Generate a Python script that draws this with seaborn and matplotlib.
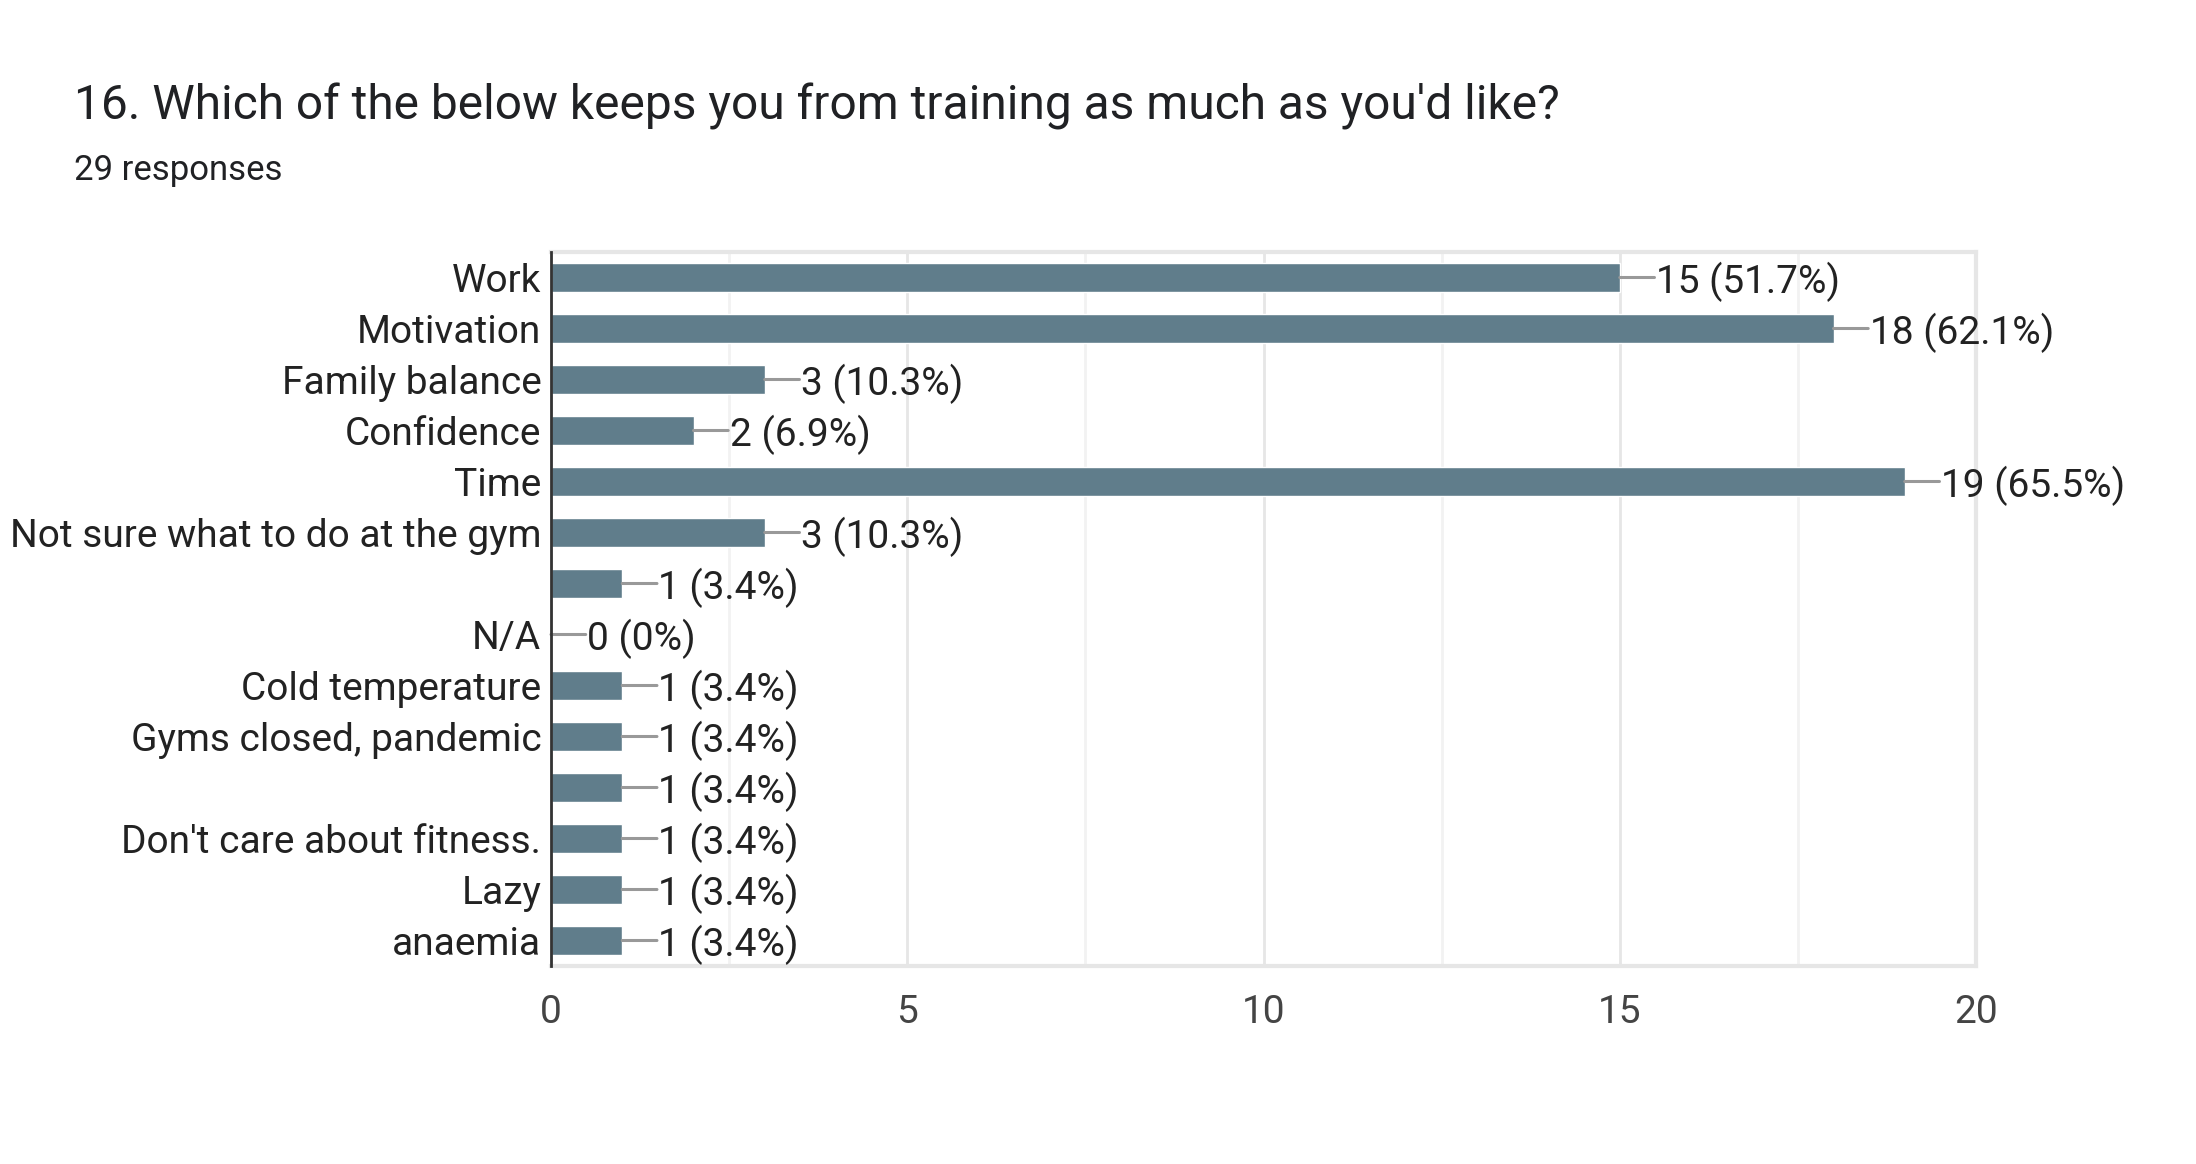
import pandas as pd
import seaborn as sns
import matplotlib.pyplot as plt
from matplotlib.ticker import MultipleLocator

labels = ["Work", "Motivation", "Family balance", "Confidence", "Time",
          "Not sure what to do at the gym", "", "N/A", "Cold temperature",
          "Gyms closed, pandemic", "", "Don't care about fitness.", "Lazy", "anaemia"]
counts = [15, 18, 3, 2, 19, 3, 1, 0, 1, 1, 1, 1, 1, 1]
pcts = ["51.7%", "62.1%", "10.3%", "6.9%", "65.5%", "10.3%", "3.4%", "0%",
        "3.4%", "3.4%", "3.4%", "3.4%", "3.4%", "3.4%"]
title = "16. Which of the below keeps you from training as much as you'd like?"
subtitle = "29 responses"

df = pd.DataFrame({"pos": range(len(labels)), "count": counts})

sns.set_theme(style="white")
plt.rcParams["font.family"] = ["Roboto", "DejaVu Sans"]

fig = plt.figure(figsize=(21.96, 11.64), dpi=100)
ax = fig.add_axes([551 / 2196, 1 - 966 / 1164, 1425 / 2196, 714 / 1164])

sns.barplot(data=df, x="count", y="pos", orient="h", color="#607d8b",
            saturation=1, width=0.58, ax=ax)

ax.set_xlim(0, 20)
ax.set_ylim(len(labels) - 0.5, -0.5)
ax.xaxis.set_major_locator(MultipleLocator(5))
ax.xaxis.set_minor_locator(MultipleLocator(2.5))
ax.grid(axis="x", which="major", color="#e6e6e6", lw=2)
ax.grid(axis="x", which="minor", color="#f2f2f2", lw=2)
ax.set_axisbelow(True)

ax.set_yticks(range(len(labels)))
ax.set_yticklabels(labels)
ax.tick_params(axis="y", length=0, pad=7, labelsize=28, labelcolor="#222222")
ax.tick_params(axis="x", which="both", length=0, pad=20, labelsize=28, labelcolor="#444444")
ax.set_xlabel("")
ax.set_ylabel("")

for side in ["top", "right", "bottom"]:
    ax.spines[side].set_color("#e6e6e6")
    ax.spines[side].set_linewidth(3)
ax.spines["left"].set_color("#333333")
ax.spines["left"].set_linewidth(2)
ax.spines["left"].set_zorder(5)

for i, (v, p) in enumerate(zip(counts, pcts)):
    # leader line from bar end
    ax.annotate("", xy=(v, i), xytext=(25, 0), textcoords="offset points",
                arrowprops=dict(arrowstyle="-", color="#999999", lw=2.2,
                                shrinkA=0, shrinkB=0))
    ax.annotate(f"{v} ({p})", xy=(v, i), xytext=(26, 0), textcoords="offset points",
                ha="left", va="center_baseline", fontsize=28, color="#222222")

fig.text(74 / 2196, 1 - 120 / 1164, title, fontsize=34.5, color="#202124", va="baseline")
fig.text(74 / 2196, 1 - 180 / 1164, subtitle, fontsize=25, color="#202124", va="baseline")

fig.savefig("out.png", dpi=100, facecolor="white")
